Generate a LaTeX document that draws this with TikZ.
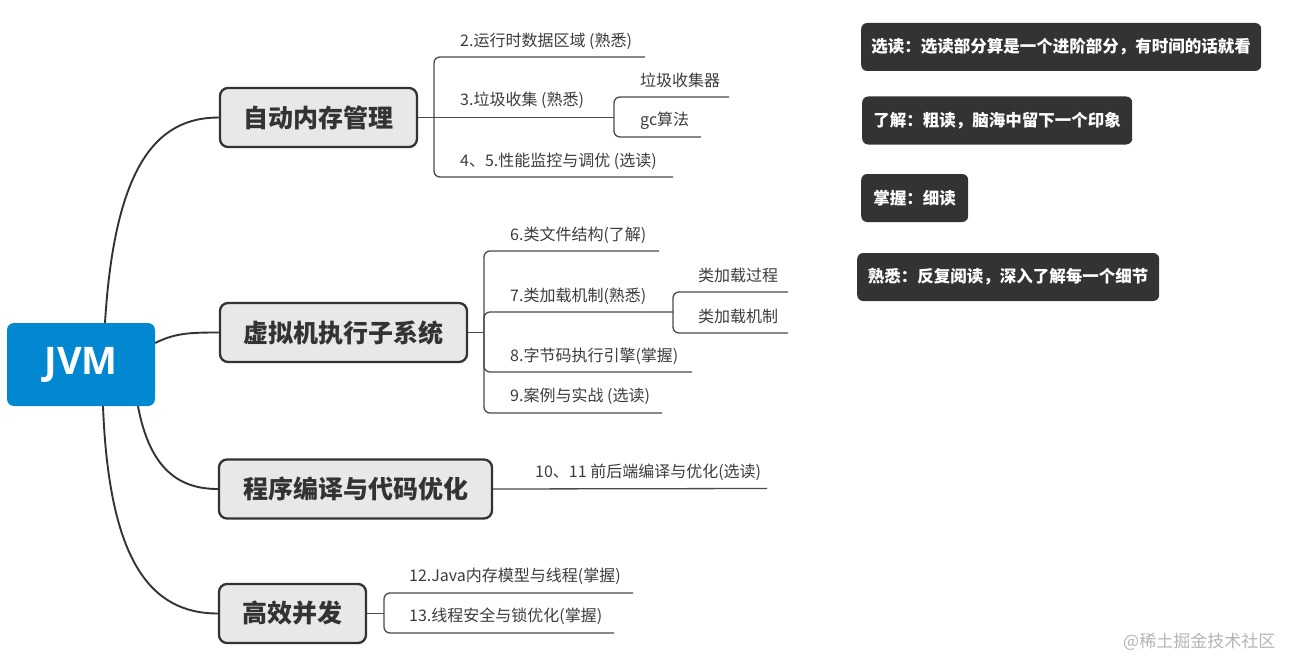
\documentclass[tikz,border=0pt]{standalone}
\usepackage{fontspec}
\setmainfont{Noto Sans CJK SC}
\newfontfamily\jvmfont{Open Sans}
\definecolor{jvmblue}{HTML}{0288D1}
\definecolor{boxfill}{HTML}{E8E8E8}
\definecolor{ink}{HTML}{333333}
\definecolor{leafink}{HTML}{3C3C3C}
\definecolor{branchink}{HTML}{4A4A4A}
\definecolor{legendfill}{HTML}{333333}
\definecolor{markgray}{HTML}{B4B4B4}
\tikzset{
  rootbox/.style={fill=jvmblue, rounded corners=7pt, text=white,
    font=\jvmfont\bfseries\fontsize{38}{40}\selectfont,
    minimum width=148pt, minimum height=83pt, inner sep=0pt},
  topicbox/.style={draw=ink, line width=2.3pt, fill=boxfill, rounded corners=8pt,
    text=ink, font=\bfseries\fontsize{25}{28}\selectfont,
    minimum height=59pt, inner sep=0pt},
  leaf/.style={anchor=west, inner sep=0pt, text=leafink,
    font=\fontsize{16}{18}\selectfont},
  trunk/.style={draw=ink, line width=1.9pt},
  branch/.style={draw=branchink, line width=1.3pt, rounded corners=6pt},
  legendbox/.style={fill=legendfill, rounded corners=6pt, text=white,
    font=\bfseries\fontsize{16.5}{18}\selectfont,
    minimum height=48pt, inner sep=0pt, anchor=west},
  watermark/.style={anchor=west, inner sep=0pt, text=markgray,
    font=\fontsize{17}{19}\selectfont}
}
\begin{document}
\begin{tikzpicture}[x=1pt,y=-1pt]
\useasboundingbox (0,0) rectangle (1302,669);

% root and topics
\node[rootbox] (jvm) at (81,364.5) {JVM};
\node[topicbox, minimum width=197pt] (b1) at (318.5,117.5) {自动内存管理};
\node[topicbox, minimum width=247pt] (b2) at (343.5,332.5) {虚拟机执行子系统};
\node[topicbox, minimum width=273pt] (b3) at (355.5,489) {程序编译与代码优化};
\node[topicbox, minimum width=147pt] (b4) at (292.5,613.5) {高效并发};

% trunk curves
\draw[trunk] ([xshift=24pt]jvm.north) .. controls +(10,-163) and +(-59,0) .. (b1.west);
\draw[trunk] ([yshift=21.5pt]jvm.east) .. controls +(20,-10) and +(-29,0) .. (b2.west);
\draw[trunk] ([xshift=57pt]jvm.south) .. controls +(12,64) and +(-38,0) .. (b3.west);
\draw[trunk] ([xshift=22pt]jvm.south) .. controls +(6,154) and +(-68,0) .. (b4.west);

% group 1
\coordinate (j1) at (434,117.5);
\coordinate (e2) at (645,57);
\coordinate (j1b) at (614,117.5);
\coordinate (e3a) at (729,97);
\coordinate (e3b) at (701,137);
\coordinate (e4) at (673,177);
\draw[branch] (b1.east) -- (j1);
\draw[branch] (j1) |- (e2);
\draw[branch] (j1) -- (j1b);
\draw[branch] (j1b) |- (e3a);
\draw[branch] (j1b) |- (e3b);
\draw[branch] (j1) |- (e4);
\node[leaf] (t2) at (460,41) {2.运行时数据区域 (熟悉)};
\node[leaf] (t3) at (460,100) {3.垃圾收集 (熟悉)};
\node[leaf] (t3a) at (640,80) {垃圾收集器};
\node[leaf] (t3b) at (640,121) {gc算法};
\node[leaf] (t4) at (460,161) {4、5.性能监控与调优 (选读)};

% group 2
\coordinate (j2) at (484,332.5);
\coordinate (e6) at (659,251);
\coordinate (j2b) at (673,312);
\coordinate (e7a) at (788,292);
\coordinate (e7b) at (788,333);
\coordinate (e8) at (692,372);
\coordinate (e9) at (662,413);
\draw[branch] (b2.east) -- (j2);
\draw[branch] (j2) |- (e6);
\draw[branch] (j2) |- (j2b);
\draw[branch] (j2b) |- (e7a);
\draw[branch] (j2b) |- (e7b);
\draw[branch] (j2) |- (e8);
\draw[branch] (j2) |- (e9);
\node[leaf] (t6) at (510,235) {6.类文件结构(了解)};
\node[leaf] (t7) at (510,296) {7.类加载机制(熟悉)};
\node[leaf] (t7a) at (698,275) {类加载过程};
\node[leaf] (t7b) at (698,316) {类加载机制};
\node[leaf] (t8) at (510,356) {8.字节码执行引擎(掌握)};
\node[leaf] (t9) at (510,396) {9.案例与实战 (选读)};

% group 3
\coordinate (e10) at (767,488.5);
\draw[branch] (b3.east) -- (e10);
\node[leaf] (t10) at (535,472) {10、11 前后端编译与优化(选读)};

% group 4
\coordinate (j4) at (384,613.5);
\coordinate (e12) at (633,593);
\coordinate (e13) at (614,633);
\draw[branch] (b4.east) -- (j4);
\draw[branch] (j4) |- (e12);
\draw[branch] (j4) |- (e13);
\node[leaf] (t12) at (409,576) {12.Java内存模型与线程(掌握)};
\node[leaf] (t13) at (409,616) {13.线程安全与锁优化(掌握)};

% legend
\node[legendbox, minimum width=400pt] (la) at (861,47) {选读：选读部分算是一个进阶部分，有时间的话就看};
\node[legendbox, minimum width=270pt] (lb) at (862,120.5) {了解：粗读，脑海中留下一个印象};
\node[legendbox, minimum width=107pt] (lc) at (861,198) {掌握：细读};
\node[legendbox, minimum width=302pt] (ld) at (857,277) {熟悉：反复阅读，深入了解每一个细节};

% watermark
\node[watermark] (wm) at (1123,642) {@稀土掘金技术社区};
\end{tikzpicture}
\end{document}
